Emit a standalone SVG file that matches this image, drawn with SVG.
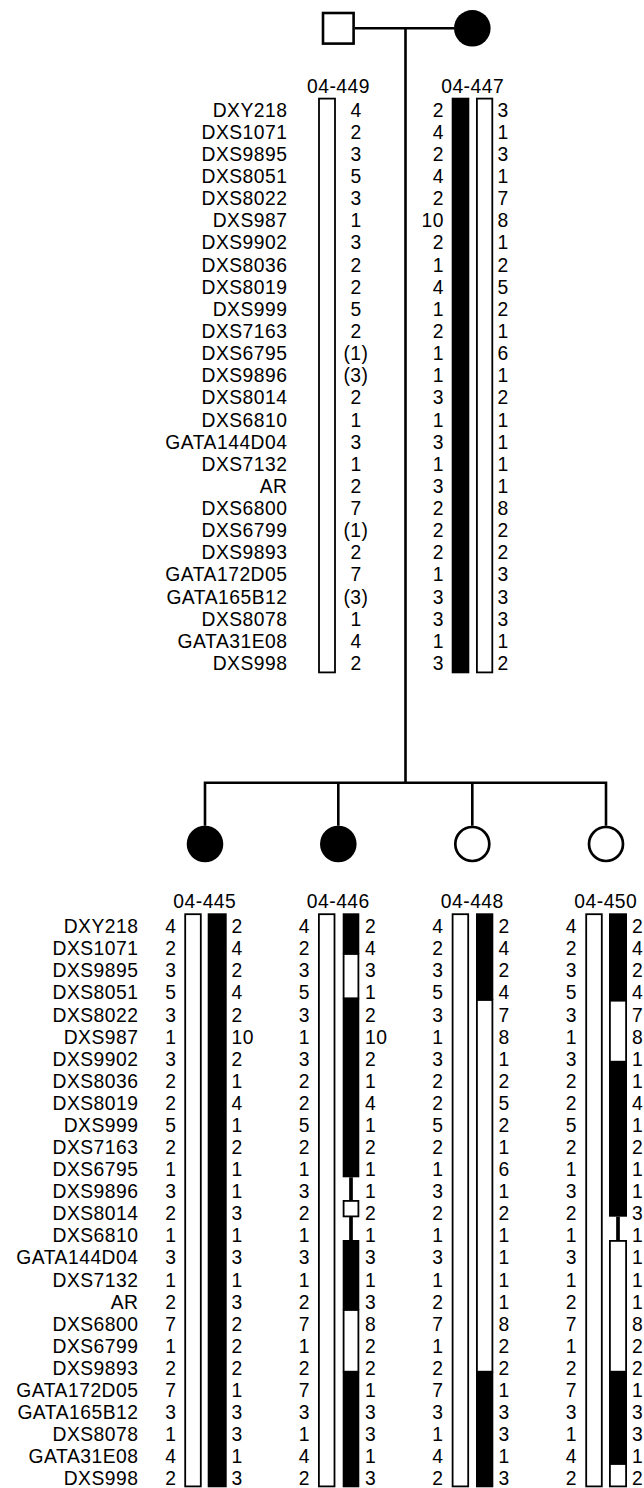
<svg xmlns="http://www.w3.org/2000/svg" width="644" height="1488" viewBox="0 0 644 1488">
<style>
text{font-family:"Liberation Sans",Arial,sans-serif;font-size:19.3px;letter-spacing:0.5px;fill:#000}
.e{text-anchor:end}.m{text-anchor:middle}.s{text-anchor:start}
.ln{stroke:#000;stroke-width:2.6;fill:none}
.wb{fill:#fff;stroke:#000;stroke-width:1.8}
.bb{fill:#000}
</style>
<rect width="644" height="1488" fill="#fff"/>
<g id="connectors">
<path class="ln" d="M355 28.3H454M405.5 28.3V782.7M203.7 782.7H607.3M205 782.7V825.7M338.3 782.7V825.7M472.3 782.7V825.7M606 782.7V825.7"/>
</g>
<g id="markers-top">
<text class="e"><tspan x="287.5" y="116.5">DXY218</tspan><tspan x="287.5" y="138.6">DXS1071</tspan><tspan x="287.5" y="160.8">DXS9895</tspan><tspan x="287.5" y="182.9">DXS8051</tspan><tspan x="287.5" y="205.1">DXS8022</tspan><tspan x="287.5" y="227.2">DXS987</tspan><tspan x="287.5" y="249.3">DXS9902</tspan><tspan x="287.5" y="271.5">DXS8036</tspan><tspan x="287.5" y="293.6">DXS8019</tspan><tspan x="287.5" y="315.8">DXS999</tspan><tspan x="287.5" y="337.9">DXS7163</tspan><tspan x="287.5" y="360">DXS6795</tspan><tspan x="287.5" y="382.2">DXS9896</tspan><tspan x="287.5" y="404.3">DXS8014</tspan><tspan x="287.5" y="426.5">DXS6810</tspan><tspan x="287.5" y="448.6">GATA144D04</tspan><tspan x="287.5" y="470.7">DXS7132</tspan><tspan x="287.5" y="492.9">AR</tspan><tspan x="287.5" y="515">DXS6800</tspan><tspan x="287.5" y="537.2">DXS6799</tspan><tspan x="287.5" y="559.3">DXS9893</tspan><tspan x="287.5" y="581.4">GATA172D05</tspan><tspan x="287.5" y="603.6">GATA165B12</tspan><tspan x="287.5" y="625.7">DXS8078</tspan><tspan x="287.5" y="647.9">GATA31E08</tspan><tspan x="287.5" y="670">DXS998</tspan></text>
</g>
<g id="father-04-449">
<rect x="323" y="13" width="30.6" height="30.6" fill="#fff" stroke="#000" stroke-width="2.6"/>
<text class="m" x="338.5" y="93">04-449</text>
<rect class="wb" x="319" y="98.6" width="16" height="573.8"/>
<text class="m"><tspan x="356" y="116.5">4</tspan><tspan x="356" y="138.6">2</tspan><tspan x="356" y="160.8">3</tspan><tspan x="356" y="182.9">5</tspan><tspan x="356" y="205.1">3</tspan><tspan x="356" y="227.2">1</tspan><tspan x="356" y="249.3">3</tspan><tspan x="356" y="271.5">2</tspan><tspan x="356" y="293.6">2</tspan><tspan x="356" y="315.8">5</tspan><tspan x="356" y="337.9">2</tspan><tspan x="356" y="360">(1)</tspan><tspan x="356" y="382.2">(3)</tspan><tspan x="356" y="404.3">2</tspan><tspan x="356" y="426.5">1</tspan><tspan x="356" y="448.6">3</tspan><tspan x="356" y="470.7">1</tspan><tspan x="356" y="492.9">2</tspan><tspan x="356" y="515">7</tspan><tspan x="356" y="537.2">(1)</tspan><tspan x="356" y="559.3">2</tspan><tspan x="356" y="581.4">7</tspan><tspan x="356" y="603.6">(3)</tspan><tspan x="356" y="625.7">1</tspan><tspan x="356" y="647.9">4</tspan><tspan x="356" y="670">2</tspan></text>
</g>
<g id="mother-04-447">
<circle cx="472.3" cy="28.3" r="18.3" fill="#000"/>
<text class="m" x="472.7" y="93">04-447</text>
<rect class="bb" x="451.7" y="97.7" width="17.6" height="575.6"/>
<rect class="wb" x="476.9" y="98.6" width="15.4" height="573.8"/>
<text class="e"><tspan x="444" y="116.5">2</tspan><tspan x="444" y="138.6">4</tspan><tspan x="444" y="160.8">2</tspan><tspan x="444" y="182.9">4</tspan><tspan x="444" y="205.1">2</tspan><tspan x="444" y="227.2">10</tspan><tspan x="444" y="249.3">2</tspan><tspan x="444" y="271.5">1</tspan><tspan x="444" y="293.6">4</tspan><tspan x="444" y="315.8">1</tspan><tspan x="444" y="337.9">2</tspan><tspan x="444" y="360">1</tspan><tspan x="444" y="382.2">1</tspan><tspan x="444" y="404.3">3</tspan><tspan x="444" y="426.5">1</tspan><tspan x="444" y="448.6">3</tspan><tspan x="444" y="470.7">1</tspan><tspan x="444" y="492.9">3</tspan><tspan x="444" y="515">2</tspan><tspan x="444" y="537.2">2</tspan><tspan x="444" y="559.3">2</tspan><tspan x="444" y="581.4">1</tspan><tspan x="444" y="603.6">3</tspan><tspan x="444" y="625.7">3</tspan><tspan x="444" y="647.9">1</tspan><tspan x="444" y="670">3</tspan></text>
<text class="s"><tspan x="497.5" y="116.5">3</tspan><tspan x="497.5" y="138.6">1</tspan><tspan x="497.5" y="160.8">3</tspan><tspan x="497.5" y="182.9">1</tspan><tspan x="497.5" y="205.1">7</tspan><tspan x="497.5" y="227.2">8</tspan><tspan x="497.5" y="249.3">1</tspan><tspan x="497.5" y="271.5">2</tspan><tspan x="497.5" y="293.6">5</tspan><tspan x="497.5" y="315.8">2</tspan><tspan x="497.5" y="337.9">1</tspan><tspan x="497.5" y="360">6</tspan><tspan x="497.5" y="382.2">1</tspan><tspan x="497.5" y="404.3">2</tspan><tspan x="497.5" y="426.5">1</tspan><tspan x="497.5" y="448.6">1</tspan><tspan x="497.5" y="470.7">1</tspan><tspan x="497.5" y="492.9">1</tspan><tspan x="497.5" y="515">8</tspan><tspan x="497.5" y="537.2">2</tspan><tspan x="497.5" y="559.3">2</tspan><tspan x="497.5" y="581.4">3</tspan><tspan x="497.5" y="603.6">3</tspan><tspan x="497.5" y="625.7">3</tspan><tspan x="497.5" y="647.9">1</tspan><tspan x="497.5" y="670">2</tspan></text>
</g>
<g id="markers-bottom">
<text class="e"><tspan x="138.5" y="933.2">DXY218</tspan><tspan x="138.5" y="955.3">DXS1071</tspan><tspan x="138.5" y="977.4">DXS9895</tspan><tspan x="138.5" y="999.4">DXS8051</tspan><tspan x="138.5" y="1021.5">DXS8022</tspan><tspan x="138.5" y="1043.6">DXS987</tspan><tspan x="138.5" y="1065.7">DXS9902</tspan><tspan x="138.5" y="1087.8">DXS8036</tspan><tspan x="138.5" y="1109.8">DXS8019</tspan><tspan x="138.5" y="1131.9">DXS999</tspan><tspan x="138.5" y="1154">DXS7163</tspan><tspan x="138.5" y="1176.1">DXS6795</tspan><tspan x="138.5" y="1198.2">DXS9896</tspan><tspan x="138.5" y="1220.2">DXS8014</tspan><tspan x="138.5" y="1242.3">DXS6810</tspan><tspan x="138.5" y="1264.4">GATA144D04</tspan><tspan x="138.5" y="1286.5">DXS7132</tspan><tspan x="138.5" y="1308.6">AR</tspan><tspan x="138.5" y="1330.6">DXS6800</tspan><tspan x="138.5" y="1352.7">DXS6799</tspan><tspan x="138.5" y="1374.8">DXS9893</tspan><tspan x="138.5" y="1396.9">GATA172D05</tspan><tspan x="138.5" y="1419">GATA165B12</tspan><tspan x="138.5" y="1441">DXS8078</tspan><tspan x="138.5" y="1463.1">GATA31E08</tspan><tspan x="138.5" y="1485.2">DXS998</tspan></text>
</g>
<g id="child-04-445">
<circle cx="205" cy="844" r="18.3" fill="#000"/>
<text class="m" x="204.8" y="908">04-445</text>
<rect class="wb" x="185.2" y="914.2" width="15.6" height="572.2"/>
<rect class="bb" x="207.7" y="913.3" width="19" height="574"/>
<text class="e"><tspan x="176.5" y="933.2">4</tspan><tspan x="176.5" y="955.3">2</tspan><tspan x="176.5" y="977.4">3</tspan><tspan x="176.5" y="999.4">5</tspan><tspan x="176.5" y="1021.5">3</tspan><tspan x="176.5" y="1043.6">1</tspan><tspan x="176.5" y="1065.7">3</tspan><tspan x="176.5" y="1087.8">2</tspan><tspan x="176.5" y="1109.8">2</tspan><tspan x="176.5" y="1131.9">5</tspan><tspan x="176.5" y="1154">2</tspan><tspan x="176.5" y="1176.1">1</tspan><tspan x="176.5" y="1198.2">3</tspan><tspan x="176.5" y="1220.2">2</tspan><tspan x="176.5" y="1242.3">1</tspan><tspan x="176.5" y="1264.4">3</tspan><tspan x="176.5" y="1286.5">1</tspan><tspan x="176.5" y="1308.6">2</tspan><tspan x="176.5" y="1330.6">7</tspan><tspan x="176.5" y="1352.7">1</tspan><tspan x="176.5" y="1374.8">2</tspan><tspan x="176.5" y="1396.9">7</tspan><tspan x="176.5" y="1419">3</tspan><tspan x="176.5" y="1441">1</tspan><tspan x="176.5" y="1463.1">4</tspan><tspan x="176.5" y="1485.2">2</tspan></text>
<text class="s"><tspan x="231.5" y="933.2">2</tspan><tspan x="231.5" y="955.3">4</tspan><tspan x="231.5" y="977.4">2</tspan><tspan x="231.5" y="999.4">4</tspan><tspan x="231.5" y="1021.5">2</tspan><tspan x="231.5" y="1043.6">10</tspan><tspan x="231.5" y="1065.7">2</tspan><tspan x="231.5" y="1087.8">1</tspan><tspan x="231.5" y="1109.8">4</tspan><tspan x="231.5" y="1131.9">1</tspan><tspan x="231.5" y="1154">2</tspan><tspan x="231.5" y="1176.1">1</tspan><tspan x="231.5" y="1198.2">1</tspan><tspan x="231.5" y="1220.2">3</tspan><tspan x="231.5" y="1242.3">1</tspan><tspan x="231.5" y="1264.4">3</tspan><tspan x="231.5" y="1286.5">1</tspan><tspan x="231.5" y="1308.6">3</tspan><tspan x="231.5" y="1330.6">2</tspan><tspan x="231.5" y="1352.7">2</tspan><tspan x="231.5" y="1374.8">2</tspan><tspan x="231.5" y="1396.9">1</tspan><tspan x="231.5" y="1419">3</tspan><tspan x="231.5" y="1441">3</tspan><tspan x="231.5" y="1463.1">1</tspan><tspan x="231.5" y="1485.2">3</tspan></text>
</g>
<g id="child-04-446">
<circle cx="338.3" cy="844" r="18.3" fill="#000"/>
<text class="m" x="338.3" y="908">04-446</text>
<rect class="wb" x="318.9" y="914.2" width="15.6" height="572.2"/>
<rect class="bb" x="342.7" y="913.3" width="16.6" height="40.7"/>
<rect class="wb" x="343.6" y="954" width="14.8" height="44.3"/>
<rect class="bb" x="342.7" y="998.3" width="16.6" height="179"/>
<rect class="bb" x="349.15" y="1177.3" width="3.7" height="62.7"/>
<rect class="wb" x="343.6" y="1200.9" width="14.8" height="15.5"/>
<rect class="bb" x="342.7" y="1240" width="16.6" height="70"/>
<rect class="wb" x="343.6" y="1310" width="14.8" height="61.7"/>
<rect class="bb" x="342.7" y="1371.7" width="16.6" height="115.6"/>
<text class="e"><tspan x="310" y="933.2">4</tspan><tspan x="310" y="955.3">2</tspan><tspan x="310" y="977.4">3</tspan><tspan x="310" y="999.4">5</tspan><tspan x="310" y="1021.5">3</tspan><tspan x="310" y="1043.6">1</tspan><tspan x="310" y="1065.7">3</tspan><tspan x="310" y="1087.8">2</tspan><tspan x="310" y="1109.8">2</tspan><tspan x="310" y="1131.9">5</tspan><tspan x="310" y="1154">2</tspan><tspan x="310" y="1176.1">1</tspan><tspan x="310" y="1198.2">3</tspan><tspan x="310" y="1220.2">2</tspan><tspan x="310" y="1242.3">1</tspan><tspan x="310" y="1264.4">3</tspan><tspan x="310" y="1286.5">1</tspan><tspan x="310" y="1308.6">2</tspan><tspan x="310" y="1330.6">7</tspan><tspan x="310" y="1352.7">1</tspan><tspan x="310" y="1374.8">2</tspan><tspan x="310" y="1396.9">7</tspan><tspan x="310" y="1419">3</tspan><tspan x="310" y="1441">1</tspan><tspan x="310" y="1463.1">4</tspan><tspan x="310" y="1485.2">2</tspan></text>
<text class="s"><tspan x="365" y="933.2">2</tspan><tspan x="365" y="955.3">4</tspan><tspan x="365" y="977.4">3</tspan><tspan x="365" y="999.4">1</tspan><tspan x="365" y="1021.5">2</tspan><tspan x="365" y="1043.6">10</tspan><tspan x="365" y="1065.7">2</tspan><tspan x="365" y="1087.8">1</tspan><tspan x="365" y="1109.8">4</tspan><tspan x="365" y="1131.9">1</tspan><tspan x="365" y="1154">2</tspan><tspan x="365" y="1176.1">1</tspan><tspan x="365" y="1198.2">1</tspan><tspan x="365" y="1220.2">2</tspan><tspan x="365" y="1242.3">1</tspan><tspan x="365" y="1264.4">3</tspan><tspan x="365" y="1286.5">1</tspan><tspan x="365" y="1308.6">3</tspan><tspan x="365" y="1330.6">8</tspan><tspan x="365" y="1352.7">2</tspan><tspan x="365" y="1374.8">2</tspan><tspan x="365" y="1396.9">1</tspan><tspan x="365" y="1419">3</tspan><tspan x="365" y="1441">3</tspan><tspan x="365" y="1463.1">1</tspan><tspan x="365" y="1485.2">3</tspan></text>
</g>
<g id="child-04-448">
<circle cx="472.3" cy="844" r="17" fill="#fff" stroke="#000" stroke-width="2.7"/>
<text class="m" x="472.3" y="908">04-448</text>
<rect class="wb" x="452.6" y="914.2" width="15.6" height="572.2"/>
<rect class="bb" x="476" y="913.3" width="17.3" height="86.7"/>
<rect class="wb" x="476.9" y="1000" width="15.5" height="371.7"/>
<rect class="bb" x="476" y="1371.7" width="17.3" height="115.6"/>
<text class="e"><tspan x="443.5" y="933.2">4</tspan><tspan x="443.5" y="955.3">2</tspan><tspan x="443.5" y="977.4">3</tspan><tspan x="443.5" y="999.4">5</tspan><tspan x="443.5" y="1021.5">3</tspan><tspan x="443.5" y="1043.6">1</tspan><tspan x="443.5" y="1065.7">3</tspan><tspan x="443.5" y="1087.8">2</tspan><tspan x="443.5" y="1109.8">2</tspan><tspan x="443.5" y="1131.9">5</tspan><tspan x="443.5" y="1154">2</tspan><tspan x="443.5" y="1176.1">1</tspan><tspan x="443.5" y="1198.2">3</tspan><tspan x="443.5" y="1220.2">2</tspan><tspan x="443.5" y="1242.3">1</tspan><tspan x="443.5" y="1264.4">3</tspan><tspan x="443.5" y="1286.5">1</tspan><tspan x="443.5" y="1308.6">2</tspan><tspan x="443.5" y="1330.6">7</tspan><tspan x="443.5" y="1352.7">1</tspan><tspan x="443.5" y="1374.8">2</tspan><tspan x="443.5" y="1396.9">7</tspan><tspan x="443.5" y="1419">3</tspan><tspan x="443.5" y="1441">1</tspan><tspan x="443.5" y="1463.1">4</tspan><tspan x="443.5" y="1485.2">2</tspan></text>
<text class="s"><tspan x="498.5" y="933.2">2</tspan><tspan x="498.5" y="955.3">4</tspan><tspan x="498.5" y="977.4">2</tspan><tspan x="498.5" y="999.4">4</tspan><tspan x="498.5" y="1021.5">7</tspan><tspan x="498.5" y="1043.6">8</tspan><tspan x="498.5" y="1065.7">1</tspan><tspan x="498.5" y="1087.8">2</tspan><tspan x="498.5" y="1109.8">5</tspan><tspan x="498.5" y="1131.9">2</tspan><tspan x="498.5" y="1154">1</tspan><tspan x="498.5" y="1176.1">6</tspan><tspan x="498.5" y="1198.2">1</tspan><tspan x="498.5" y="1220.2">2</tspan><tspan x="498.5" y="1242.3">1</tspan><tspan x="498.5" y="1264.4">1</tspan><tspan x="498.5" y="1286.5">1</tspan><tspan x="498.5" y="1308.6">1</tspan><tspan x="498.5" y="1330.6">8</tspan><tspan x="498.5" y="1352.7">2</tspan><tspan x="498.5" y="1374.8">2</tspan><tspan x="498.5" y="1396.9">1</tspan><tspan x="498.5" y="1419">3</tspan><tspan x="498.5" y="1441">3</tspan><tspan x="498.5" y="1463.1">1</tspan><tspan x="498.5" y="1485.2">3</tspan></text>
</g>
<g id="child-04-450">
<circle cx="606" cy="844" r="17" fill="#fff" stroke="#000" stroke-width="2.7"/>
<text class="m" x="605.8" y="908">04-450</text>
<rect class="wb" x="586.2" y="914.2" width="15.6" height="572.2"/>
<rect class="bb" x="609" y="913.3" width="18" height="87.4"/>
<rect class="wb" x="609.9" y="1000.7" width="16.2" height="61"/>
<rect class="bb" x="609" y="1061.7" width="18" height="155"/>
<rect class="bb" x="616.15" y="1216.7" width="3.7" height="23.3"/>
<rect class="wb" x="609.9" y="1240.9" width="16.2" height="130.8"/>
<rect class="bb" x="609" y="1371.7" width="18" height="92.3"/>
<rect class="wb" x="609.9" y="1464" width="16.2" height="22.4"/>
<text class="e"><tspan x="577" y="933.2">4</tspan><tspan x="577" y="955.3">2</tspan><tspan x="577" y="977.4">3</tspan><tspan x="577" y="999.4">5</tspan><tspan x="577" y="1021.5">3</tspan><tspan x="577" y="1043.6">1</tspan><tspan x="577" y="1065.7">3</tspan><tspan x="577" y="1087.8">2</tspan><tspan x="577" y="1109.8">2</tspan><tspan x="577" y="1131.9">5</tspan><tspan x="577" y="1154">2</tspan><tspan x="577" y="1176.1">1</tspan><tspan x="577" y="1198.2">3</tspan><tspan x="577" y="1220.2">2</tspan><tspan x="577" y="1242.3">1</tspan><tspan x="577" y="1264.4">3</tspan><tspan x="577" y="1286.5">1</tspan><tspan x="577" y="1308.6">2</tspan><tspan x="577" y="1330.6">7</tspan><tspan x="577" y="1352.7">1</tspan><tspan x="577" y="1374.8">2</tspan><tspan x="577" y="1396.9">7</tspan><tspan x="577" y="1419">3</tspan><tspan x="577" y="1441">1</tspan><tspan x="577" y="1463.1">4</tspan><tspan x="577" y="1485.2">2</tspan></text>
<text class="s"><tspan x="632" y="933.2">2</tspan><tspan x="632" y="955.3">4</tspan><tspan x="632" y="977.4">2</tspan><tspan x="632" y="999.4">4</tspan><tspan x="632" y="1021.5">7</tspan><tspan x="632" y="1043.6">8</tspan><tspan x="632" y="1065.7">1</tspan><tspan x="632" y="1087.8">1</tspan><tspan x="632" y="1109.8">4</tspan><tspan x="632" y="1131.9">1</tspan><tspan x="632" y="1154">2</tspan><tspan x="632" y="1176.1">1</tspan><tspan x="632" y="1198.2">1</tspan><tspan x="632" y="1220.2">3</tspan><tspan x="632" y="1242.3">1</tspan><tspan x="632" y="1264.4">1</tspan><tspan x="632" y="1286.5">1</tspan><tspan x="632" y="1308.6">1</tspan><tspan x="632" y="1330.6">8</tspan><tspan x="632" y="1352.7">2</tspan><tspan x="632" y="1374.8">2</tspan><tspan x="632" y="1396.9">1</tspan><tspan x="632" y="1419">3</tspan><tspan x="632" y="1441">3</tspan><tspan x="632" y="1463.1">1</tspan><tspan x="632" y="1485.2">2</tspan></text>
</g>
</svg>
